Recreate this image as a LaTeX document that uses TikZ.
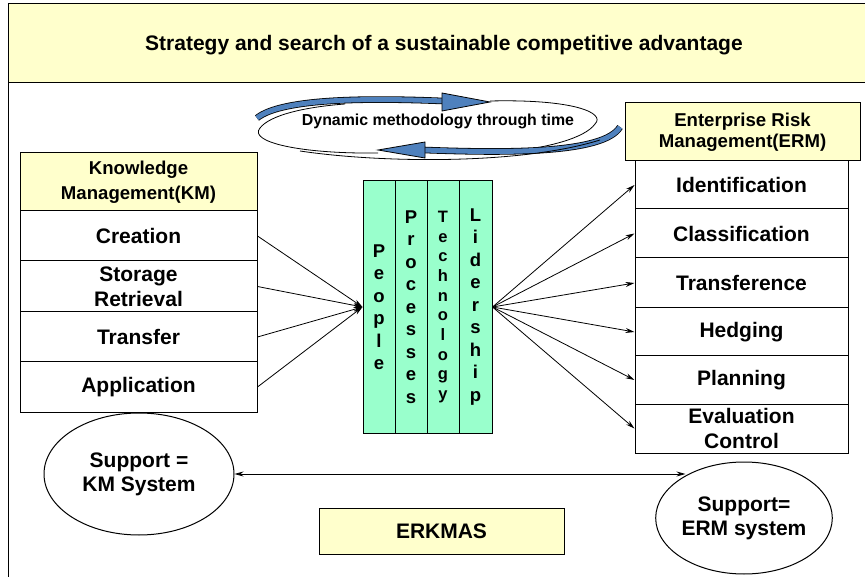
\documentclass[tikz,border=0pt]{standalone}
\usepackage{fontspec}
\setmainfont{Liberation Sans}
\usetikzlibrary{shapes.geometric,arrows.meta}
\definecolor{paleyellow}{RGB}{255,255,204}
\definecolor{mint}{RGB}{153,255,204}
\definecolor{loopblue}{RGB}{79,129,189}
\begin{document}
\begin{tikzpicture}[x=1pt,y=-1pt,line width=1pt,
  box/.style={draw,rectangle,inner sep=0pt,align=center,fill=white,
    font=\fontsize{21}{25}\selectfont\bfseries},
  headbox/.style={box,fill=paleyellow,font=\fontsize{18.6}{25}\selectfont\bfseries},
  pillar/.style={draw,rectangle,inner sep=0pt,align=center,fill=mint,
    minimum width=32pt,minimum height=252pt,font=\fontsize{18.5}{22.5}\selectfont\bfseries},
  supp/.style={draw,ellipse,inner sep=0pt,align=center,
    font=\fontsize{21}{24}\selectfont\bfseries},
  arr/.style={-{Stealth[length=9pt,width=5pt]},line width=0.8pt},
  ribbon/.style={draw=black,line width=0.8pt,double=loopblue,double distance=5pt},
  tip/.style={fill=loopblue,draw=black,line width=0.8pt}]
\useasboundingbox (0,0) rectangle (865,577);
\clip (0,0) rectangle (865,577);
% frame and banner
\draw[fill=paleyellow] (8,4) rectangle (880,83);
\draw (8,83) -- (8,590);
\node[font=\fontsize{21}{25}\selectfont\bfseries] (title) at (444,45)
  {Strategy and search of a sustainable competitive advantage};

% dynamic loop
\path[ribbon] (257,118) .. controls (282,98) and (370,98) .. (443,101);
\path[tip] (442,93) -- (490,102) -- (442,111) -- cycle;
\draw[line width=0.8pt] (490,101) .. controls (574,99) and (606,113) .. (595,124)
  .. controls (585,138) and (548,148) .. (505,152);
\path[ribbon] (620,127) .. controls (604,154) and (505,153) .. (424,150);
\path[tip] (425,142) -- (378,150) -- (425,158) -- cycle;
\draw[line width=0.8pt] (378,153) .. controls (300,154) and (248,142) .. (260,128)
  .. controls (270,115) and (305,107) .. (345,104);
\draw[line width=0.8pt] (300,151) .. controls (380,163) and (520,165) .. (600,140);
\node[font=\fontsize{15.9}{18}\selectfont\bfseries,anchor=base] (loop) at (438,126)
  {Dynamic methodology through time};

% knowledge management
\node[headbox,minimum width=237pt,minimum height=58pt] (km) at (138.5,182)
  {Knowledge\\Management(KM)};
\node[box,minimum width=237pt,minimum height=50pt] (creation) at (138.5,236) {Creation};
\node[box,minimum width=237pt,minimum height=51pt] (storage) at (138.5,286.5) {Storage\\Retrieval};
\node[box,minimum width=237pt,minimum height=50pt] (transfer) at (138.5,337) {Transfer};
\node[box,minimum width=237pt,minimum height=50pt] (application) at (138.5,387) {Application};

% pillars
\node[pillar] (people) at (379,307) {P\\e\\o\\p\\l\\e};
\node[pillar] (processes) at (411,307) {P\\r\\o\\c\\e\\s\\s\\e\\s};
\node[pillar,font=\fontsize{16.5}{19.7}\selectfont\bfseries] (technology) at (443,307)
  {T\\e\\c\\h\\n\\o\\l\\o\\g\\y};
\node[pillar,minimum width=33pt] (lidership) at (475.5,307) {L\\i\\d\\e\\r\\s\\h\\i\\p};

% enterprise risk management
\node[headbox,minimum width=235pt,minimum height=58pt,
  font=\fontsize{18.6}{21}\selectfont\bfseries] (erm) at (742.5,132)
  {Enterprise Risk\\Management(ERM)};
\node[box,minimum width=213pt,minimum height=48pt] (ident) at (741.5,185) {Identification};
\node[box,minimum width=213pt,minimum height=49pt] (classif) at (741.5,233.5) {Classification};
\node[box,minimum width=213pt,minimum height=50pt] (transf) at (741.5,283) {Transference};
\node[box,minimum width=213pt,minimum height=48pt] (hedging) at (741.5,332) {Hedging};
\node[box,minimum width=213pt,minimum height=48pt] (planning) at (741.5,380) {Planning};
\node[box,minimum width=213pt,minimum height=49pt] (evalctrl) at (741.5,428.5) {Evaluation\\Control};

\foreach \r in {creation,storage,transfer,application}
  \draw[arr] (\r.east) -- (people.west);
\foreach \r in {ident,classif,transf,hedging,planning,evalctrl}
  \draw[arr] (lidership.east) -- (\r.west);

% support systems
\node[supp,minimum width=190pt,minimum height=122pt] (kmsys) at (139,474) {Support =\\KM System};
\node[supp,minimum width=174pt,minimum height=112pt] (ermsys) at (744,518) {Support=\\ERM system};
\draw[{Stealth[length=9pt,width=5pt]}-{Stealth[length=9pt,width=5pt]},line width=0.8pt]
  (kmsys.east) -- (ermsys.144 |- kmsys.east);
\node[box,fill=paleyellow,minimum width=245pt,minimum height=46pt] (erkmas) at (441.5,531) {ERKMAS};
\end{tikzpicture}
\end{document}
